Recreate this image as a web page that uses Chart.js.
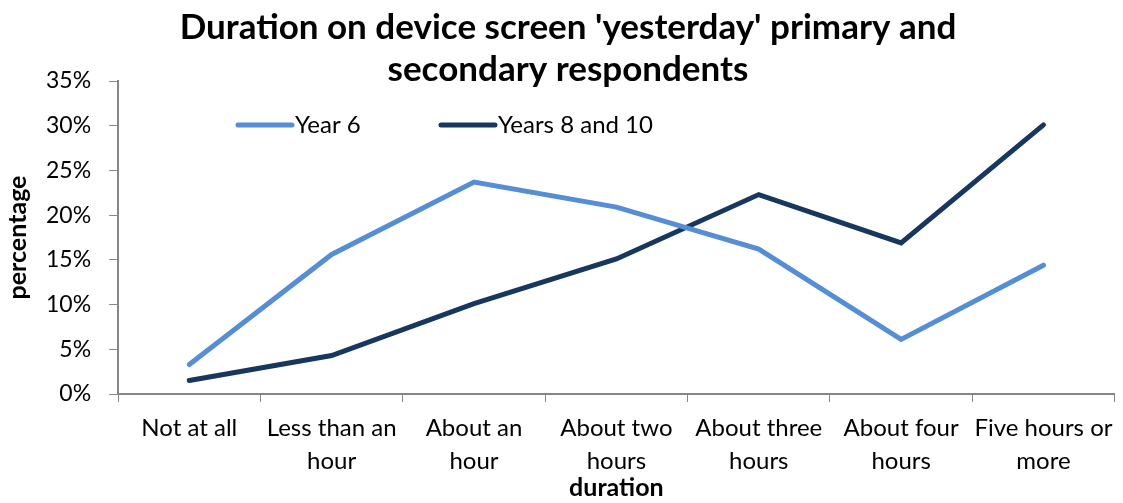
<!DOCTYPE html>
<html>
<head>
<meta charset="utf-8">
<script src="https://cdn.jsdelivr.net/npm/chart.js@4/dist/chart.umd.min.js"></script>
<style>
  html, body { margin: 0; padding: 0; background: #fff; }
  #wrap { width: 1123px; height: 503px; }
</style>
</head>
<body>
<div id="wrap"><canvas id="chart" width="1123" height="503"></canvas></div>
<script>
// Chart data
const categories = [
    ['Not at all'],
    ['Less than an', 'hour'],
    ['About an', 'hour'],
    ['About two', 'hours'],
    ['About three', 'hours'],
    ['About four', 'hours'],
    ['Five hours or', 'more']
];
const year6 = [3.3, 15.6, 23.7, 20.9, 16.2, 6.1, 14.4];
const years8and10 = [1.5, 4.3, 10.1, 15.1, 22.3, 16.9, 30.1];
const seriesNames = ['Year 6', 'Years 8 and 10'];
const titleLines = ["Duration on device screen 'yesterday' primary and", 'secondary respondents'];

const FONT = 'Lato, "Open Sans", sans-serif';

// Title and in-plot legend drawn by hand so they can overlap the plot like the original
const overlayPlugin = {
    id: 'overlay',
    afterDraw(chart) {
        const ctx = chart.ctx;
        ctx.save();
        ctx.fillStyle = '#000';
        ctx.font = 'bold 35px ' + FONT;
        ctx.textAlign = 'center';
        ctx.textBaseline = 'middle';
        ctx.fillText(titleLines[0], 568, 28);
        ctx.fillText(titleLines[1], 568, 70);

        const items = [{ x: 238, y: 125 }, { x: 441, y: 125 }];
        chart.data.datasets.forEach((ds, i) => {
            const it = items[i];
            ctx.strokeStyle = ds.borderColor;
            ctx.lineWidth = 5;
            ctx.lineCap = 'round';
            ctx.beginPath();
            ctx.moveTo(it.x, it.y);
            ctx.lineTo(it.x + 54, it.y);
            ctx.stroke();
            ctx.fillStyle = '#000';
            ctx.font = '24px ' + FONT;
            ctx.textAlign = 'left';
            ctx.fillText(ds.label, it.x + 57, it.y);
        });
        ctx.restore();
    }
};

new Chart(document.getElementById('chart'), {
    type: 'line',
    data: {
        labels: categories,
        datasets: [
            {
                label: seriesNames[0],
                data: year6,
                borderColor: '#558ED5',
                borderWidth: 5,
                borderCapStyle: 'round',
                pointRadius: 0,
                tension: 0
            },
            {
                label: seriesNames[1],
                data: years8and10,
                borderColor: '#17375E',
                borderWidth: 5,
                borderCapStyle: 'round',
                pointRadius: 0,
                tension: 0
            }
        ]
    },
    options: {
        responsive: false,
        animation: false,
        layout: { padding: { top: 81, left: 3, right: 7, bottom: 0 } },
        plugins: {
            legend: { display: false },
            title: { display: false },
            tooltip: { enabled: false }
        },
        scales: {
            x: {
                offset: true,
                grid: {
                    offset: true,
                    drawOnChartArea: false,
                    tickLength: 8,
                    color: '#868686'
                },
                border: { color: '#868686', width: 2 },
                ticks: {
                    color: '#000',
                    font: { family: FONT, size: 24, lineHeight: 1.375 },
                    padding: 10,
                    maxRotation: 0,
                    autoSkip: false
                },
                title: {
                    display: true,
                    text: 'duration',
                    color: '#000',
                    font: { family: FONT, size: 25, weight: 'bold' },
                    padding: { top: -15, bottom: 0 }
                }
            },
            y: {
                min: 0,
                max: 35,
                grid: {
                    drawOnChartArea: false,
                    tickLength: 9,
                    color: '#868686'
                },
                border: { color: '#868686', width: 2 },
                ticks: {
                    stepSize: 5,
                    color: '#000',
                    font: { family: FONT, size: 23 },
                    padding: 18,
                    callback: v => v + '%'
                },
                title: {
                    display: true,
                    text: 'percentage',
                    color: '#000',
                    font: { family: FONT, size: 25, weight: 'bold' },
                    padding: { top: 0, bottom: -5 }
                }
            }
        }
    },
    plugins: [overlayPlugin]
});
</script>
</body>
</html>
